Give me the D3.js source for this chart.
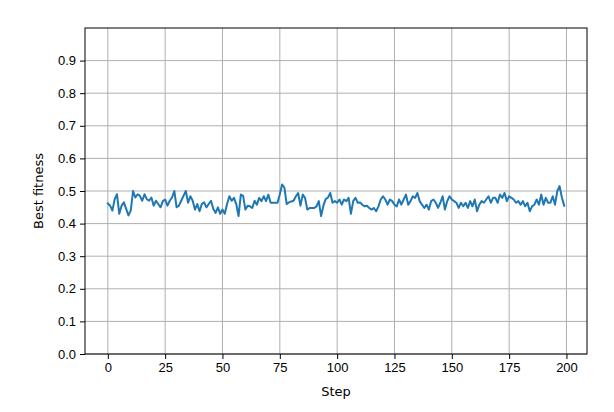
<!DOCTYPE html>
<html>
<head>
<meta charset="utf-8">
<script src="https://d3js.org/d3.v7.min.js"></script>
<style>
  body { margin: 0; background: #fff; }
  svg { display: block; font-family: "DejaVu Sans", sans-serif; }
  .grid line { stroke: #b0b0b0; stroke-width: 1; }
  .axis text { font-size: 13px; fill: #000; }
  .axis path, .axis line { stroke: #000; }
</style>
</head>
<body>
<svg id="chart" width="614" height="412"></svg>
<script>
// Best fitness per step
var fitness = [
  0.462, 0.455, 0.440, 0.475, 0.490, 0.430, 0.455, 0.465, 0.445, 0.425,
  0.440, 0.500, 0.480, 0.490, 0.485, 0.470, 0.490, 0.475, 0.470, 0.480,
  0.455, 0.470, 0.460, 0.450, 0.469, 0.474, 0.455, 0.470, 0.480, 0.500,
  0.450, 0.455, 0.470, 0.485, 0.500, 0.464, 0.484, 0.470, 0.443, 0.460,
  0.438, 0.460, 0.465, 0.450, 0.460, 0.470, 0.445, 0.433, 0.450, 0.430,
  0.443, 0.430, 0.460, 0.484, 0.470, 0.479, 0.460, 0.423, 0.489, 0.485,
  0.443, 0.455, 0.453, 0.448, 0.470, 0.458, 0.479, 0.469, 0.484, 0.469,
  0.489, 0.464, 0.464, 0.464, 0.464, 0.490, 0.520, 0.510, 0.460, 0.465,
  0.468, 0.470, 0.484, 0.494, 0.455, 0.489, 0.479, 0.443, 0.448, 0.448,
  0.448, 0.453, 0.469, 0.423, 0.455, 0.475, 0.480, 0.494, 0.464, 0.469,
  0.464, 0.474, 0.458, 0.474, 0.469, 0.479, 0.430, 0.469, 0.479, 0.464,
  0.465, 0.458, 0.453, 0.455, 0.448, 0.443, 0.448, 0.438, 0.453, 0.474,
  0.484, 0.474, 0.458, 0.474, 0.469, 0.458, 0.453, 0.474, 0.458, 0.474,
  0.489, 0.458, 0.469, 0.484, 0.479, 0.494, 0.469, 0.458, 0.448, 0.458,
  0.443, 0.469, 0.474, 0.464, 0.448, 0.464, 0.484, 0.443, 0.469, 0.484,
  0.474, 0.469, 0.464, 0.448, 0.464, 0.453, 0.464, 0.448, 0.469, 0.453,
  0.474, 0.438, 0.458, 0.469, 0.464, 0.474, 0.484, 0.464, 0.479, 0.479,
  0.464, 0.489, 0.479, 0.494, 0.469, 0.484, 0.479, 0.474, 0.464, 0.469,
  0.458, 0.469, 0.453, 0.464, 0.438, 0.453, 0.458, 0.474, 0.458, 0.489,
  0.458, 0.479, 0.464, 0.464, 0.484, 0.458, 0.500, 0.515, 0.480, 0.455
];
var steps = fitness.map(function(d, i) { return i; });

var xTicks = [0, 25, 50, 75, 100, 125, 150, 175, 200];
var yTicks = [0.0, 0.1, 0.2, 0.3, 0.4, 0.5, 0.6, 0.7, 0.8, 0.9];

var margin = { left: 85, right: 27, top: 28, bottom: 58 };
var width = 614, height = 412;

var svg = d3.select('#chart');

// matplotlib style 5% x margin around 0..199
var pad = (steps.length - 1) * 0.05;
var x = d3.scaleLinear()
  .domain([-pad, steps.length - 1 + pad])
  .range([margin.left, width - margin.right]);
var y = d3.scaleLinear()
  .domain([0, 1])
  .range([height - margin.bottom, margin.top]);

// Grid
var grid = svg.append('g').attr('class', 'grid');
grid.selectAll('.gx').data(xTicks).join('line')
  .attr('x1', function(d) { return x(d); })
  .attr('x2', function(d) { return x(d); })
  .attr('y1', margin.top)
  .attr('y2', height - margin.bottom);
grid.selectAll('.gy').data(yTicks).join('line')
  .attr('y1', function(d) { return y(d); })
  .attr('y2', function(d) { return y(d); })
  .attr('x1', margin.left)
  .attr('x2', width - margin.right);

// Line
var line = d3.line()
  .x(function(d, i) { return x(steps[i]); })
  .y(function(d) { return y(d); });
svg.append('path')
  .datum(fitness)
  .attr('d', line)
  .attr('fill', 'none')
  .attr('stroke', '#1f77b4')
  .attr('stroke-width', 2)
  .attr('stroke-linejoin', 'round')
  .attr('stroke-linecap', 'square');

// Axes
var xAxis = svg.append('g')
  .attr('class', 'axis')
  .attr('transform', 'translate(0,' + (height - margin.bottom) + ')')
  .call(d3.axisBottom(x).tickValues(xTicks).tickSize(5).tickPadding(4).tickFormat(d3.format('d')));
var yAxis = svg.append('g')
  .attr('class', 'axis')
  .attr('transform', 'translate(' + margin.left + ',0)')
  .call(d3.axisLeft(y).tickValues(yTicks).tickSize(5).tickPadding(4).tickFormat(d3.format('.1f')));
xAxis.select('.domain').remove();
yAxis.select('.domain').remove();

// Frame
svg.append('rect')
  .attr('x', margin.left)
  .attr('y', margin.top)
  .attr('width', width - margin.left - margin.right)
  .attr('height', height - margin.top - margin.bottom)
  .attr('fill', 'none')
  .attr('stroke', '#000')
  .attr('stroke-width', 1);

// Labels
svg.append('text')
  .attr('x', (margin.left + width - margin.right) / 2)
  .attr('y', 396)
  .attr('text-anchor', 'middle')
  .style('font-size', '13px')
  .text('Step');
svg.append('text')
  .attr('transform', 'translate(43,' + ((margin.top + height - margin.bottom) / 2) + ') rotate(-90)')
  .attr('text-anchor', 'middle')
  .style('font-size', '13px')
  .text('Best fitness');
</script>
</body>
</html>
